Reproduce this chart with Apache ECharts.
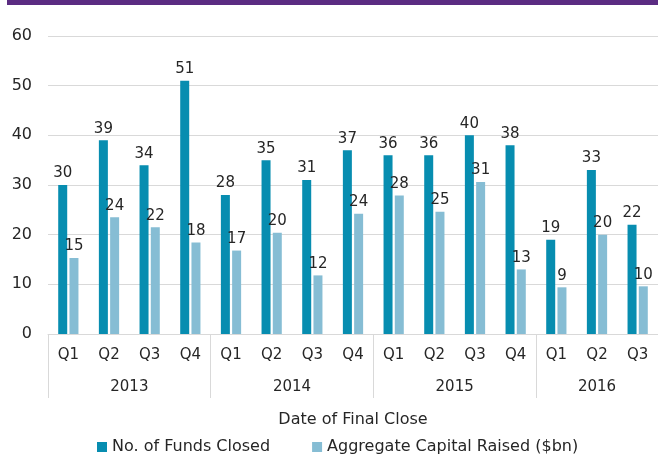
<!DOCTYPE html>
<html>
<head>
<meta charset="utf-8">
<script src="https://cdn.jsdelivr.net/npm/echarts@6/dist/echarts.min.js"></script>
<style>
	html, body { margin: 0; padding: 0; background: #fff; }
	#wrap { position: relative; width: 658px; height: 458px; }
	#topbar { position: absolute; left: 7px; top: 0; width: 651px; height: 5px; background: #5b2c82; }
	#chart { width: 658px; height: 458px; }
</style>
</head>
<body>
<div id="wrap">
	<div id="chart"></div>
	<div id="topbar"></div>
</div>
<script>
const quarters = ["Q1", "Q2", "Q3", "Q4", "Q1", "Q2", "Q3", "Q4", "Q1", "Q2", "Q3", "Q4", "Q1", "Q2", "Q3"];
const years = ["2013", "2014", "2015", "2016"];
const quartersPerYear = [4, 4, 4, 3];
const fundsClosed = [30, 39, 34, 51, 28, 35, 31, 37, 36, 36, 40, 38, 19, 33, 22];
const capitalRaised = [15.3, 23.5, 21.5, 18.4, 16.8, 20.4, 11.8, 24.2, 27.9, 24.6, 30.6, 13.0, 9.4, 20.0, 9.6];
const yTicks = { min: 0, max: 60, interval: 10 };

// second level axis: points every half quarter, year label in the middle of each group
let halfPoints = [];
let boundaries = [0];
let labelAt = {};
let pos = 0;
for (let i = 0; i < years.length; i++) {
	labelAt[pos + quartersPerYear[i]] = years[i];
	pos += quartersPerYear[i] * 2;
	boundaries.push(pos);
}
for (let k = 0; k <= pos; k++) {
	halfPoints.push(labelAt[k] || "");
}

const font = "DejaVu Sans";
const textColor = "#262626";
const gridColor = "#d9d9d9";

let chart = echarts.init(document.getElementById("chart"));
chart.setOption({
	animation: false,
	textStyle: { fontFamily: font },
	grid: {
		left: 48,
		top: 36,
		width: 613,
		height: 298,
	},
	legend: {
		bottom: -2,
		left: 92,
		icon: "rect",
		itemWidth: 10,
		itemHeight: 10,
		itemGap: 42,
		textStyle: { fontFamily: font, fontSize: 16, color: textColor },
		data: ["No. of Funds Closed", "Aggregate Capital Raised ($bn)"],
	},
	xAxis: [
		{
			type: "category",
			data: quarters,
			axisLine: { show: true, lineStyle: { color: gridColor } },
			axisTick: { show: false },
			axisLabel: { fontSize: 15, color: textColor, margin: 14, interval: 0 },
		},
		{
			type: "category",
			data: halfPoints,
			boundaryGap: false,
			position: "bottom",
			axisLine: { show: false },
			axisTick: {
				show: true,
				length: 64,
				interval: function (index) {
					return boundaries.indexOf(index) >= 0;
				},
				lineStyle: { color: gridColor },
			},
			axisLabel: {
				fontSize: 15,
				color: textColor,
				margin: 46,
				interval: function (index, value) {
					return value !== "";
				},
			},
			name: "Date of Final Close",
			nameLocation: "middle",
			nameGap: 78,
			nameTextStyle: { fontFamily: font, fontSize: 16, color: textColor },
		},
	],
	yAxis: {
		type: "value",
		min: yTicks.min,
		max: yTicks.max,
		interval: yTicks.interval,
		axisLine: { show: false },
		axisTick: { show: false },
		axisLabel: { fontSize: 16, color: textColor, margin: 16 },
		splitLine: { show: true, lineStyle: { color: gridColor } },
	},
	series: [
		{
			name: "No. of Funds Closed",
			type: "bar",
			xAxisIndex: 0,
			data: fundsClosed,
			barWidth: 9,
			barGap: "25%",
			itemStyle: { color: "#078db0" },
			label: {
				show: true,
				position: "top",
				distance: 4,
				fontSize: 15,
				color: textColor,
				formatter: (p) => Math.round(p.value),
			},
		},
		{
			name: "Aggregate Capital Raised ($bn)",
			type: "bar",
			xAxisIndex: 0,
			data: capitalRaised,
			barWidth: 9,
			barGap: "25%",
			itemStyle: { color: "#86bdd4" },
			label: {
				show: true,
				position: "top",
				distance: 4,
				fontSize: 15,
				color: textColor,
				formatter: (p) => Math.round(p.value),
			},
		},
	],
});
</script>
</body>
</html>
